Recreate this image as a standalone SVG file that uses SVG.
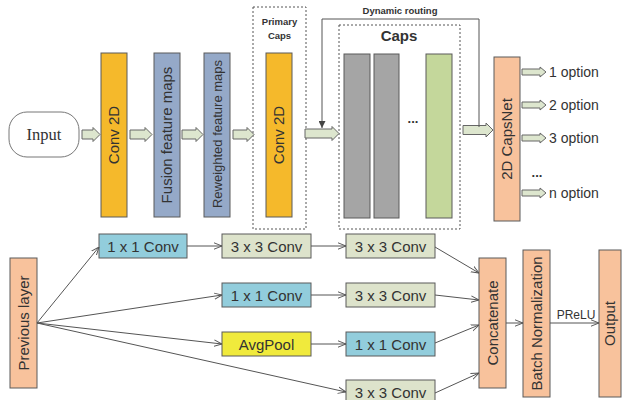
<svg xmlns="http://www.w3.org/2000/svg" width="622" height="400" viewBox="0 0 622 400">
  <defs>
    <style>
      .t { font-family: "Liberation Sans", Arial, sans-serif; fill: #333; }
      .b { font-weight: bold; }
      .box { stroke: #5a5a5a; stroke-width: 1; }
      .orange { fill: #F5B92B; }
      .steel { fill: #95A9C8; }
      .gray { fill: #A5A5A5; }
      .green { fill: #C4D79B; }
      .peach { fill: #F8C29C; }
      .cyan { fill: #92CDDC; }
      .sage { fill: #DDE3CB; }
      .yellow { fill: #F0EA3C; }
      .dash { fill: none; stroke: #555; stroke-width: 1; stroke-dasharray: 2 2; }
      .barrow { fill: #DDE6CE; stroke: #666; stroke-width: 1; }
      .ln { fill: none; stroke: #555; stroke-width: 1; }
    </style>
    <marker id="open" viewBox="0 0 10 10" refX="10" refY="5" markerWidth="8" markerHeight="8" orient="auto" markerUnits="userSpaceOnUse">
      <path d="M0,1 L10,5 L0,9" fill="none" stroke="#555" stroke-width="1.2"/>
    </marker>
    <marker id="tri" viewBox="0 0 10 10" refX="10" refY="5" markerWidth="7" markerHeight="7" orient="auto" markerUnits="userSpaceOnUse">
      <path d="M0,0 L10,5 L0,10 Z" fill="#444"/>
    </marker>
  </defs>

  <!-- Capsule network pipeline -->
  <g id="input">
    <rect x="9" y="112" width="70" height="45" rx="18" fill="#fff" stroke="#777"/>
    <text x="44" y="140" text-anchor="middle" font-family="Liberation Serif, serif" font-size="16.5" fill="#333">Input</text>
  </g>
  <g id="conv2d-a">
    <rect class="box orange" x="101" y="53" width="26" height="164"/>
    <text class="t" font-size="15" transform="translate(119,135) rotate(-90)" text-anchor="middle">Conv 2D</text>
  </g>
  <g id="fusion">
    <rect class="box steel" x="154" y="53" width="26" height="164"/>
    <text class="t" font-size="15" transform="translate(172,135) rotate(-90)" text-anchor="middle">Fusion feature maps</text>
  </g>
  <g id="reweighted">
    <rect class="box steel" x="204" y="53" width="26" height="164"/>
    <text class="t" font-size="13" transform="translate(221.5,134) rotate(-90)" text-anchor="middle">Reweighted feature maps</text>
  </g>
  <g id="primary-caps">
    <rect class="dash" x="253" y="7" width="53" height="222"/>
    <text class="t b" font-size="9.5" x="279.5" y="25" text-anchor="middle">Primary</text>
    <text class="t b" font-size="9.5" x="279.5" y="39" text-anchor="middle">Caps</text>
    <rect class="box orange" x="266" y="53" width="26" height="164"/>
    <text class="t" font-size="15" transform="translate(284,135) rotate(-90)" text-anchor="middle">Conv 2D</text>
  </g>
  <g id="caps">
    <rect class="dash" x="339" y="25" width="121" height="204"/>
    <text class="t b" font-size="15" x="399" y="41" text-anchor="middle">Caps</text>
    <rect class="box gray" x="344" y="54" width="26" height="164"/>
    <rect class="box gray" x="374" y="54" width="25" height="164"/>
    <text class="t b" font-size="13" x="413" y="123" text-anchor="middle">...</text>
    <rect class="box green" x="426" y="54" width="26" height="164"/>
  </g>
  <g id="capsnet-2d">
    <rect class="box peach" x="494" y="57" width="26" height="164"/>
    <text class="t" font-size="15" transform="translate(512,139) rotate(-90)" text-anchor="middle">2D CapsNet</text>
    <text class="t" font-size="14" x="549" y="77">1 option</text>
    <text class="t" font-size="14" x="549" y="110">2 option</text>
    <text class="t" font-size="14" x="549" y="143">3 option</text>
    <text class="t b" font-size="13" x="537" y="177" text-anchor="middle">...</text>
    <text class="t" font-size="14" x="549" y="198">n option</text>
  </g>

  <!-- Inception-style block -->
  <g id="previous-layer">
    <rect class="box peach" x="10" y="258" width="27" height="130"/>
    <text class="t" font-size="15" transform="translate(29,323) rotate(-90)" text-anchor="middle">Previous layer</text>
  </g>
  <g id="b1-conv1">
    <rect class="box cyan" x="99" y="234" width="88" height="24"/>
    <text class="t" font-size="15" x="143" y="251.5" text-anchor="middle">1 x 1 Conv</text>
  </g>
  <g id="b1-conv3a">
    <rect class="box sage" x="222" y="234" width="89" height="24"/>
    <text class="t" font-size="15" x="266.5" y="251.5" text-anchor="middle">3 x 3 Conv</text>
  </g>
  <g id="b1-conv3b">
    <rect class="box sage" x="346" y="234" width="89" height="24"/>
    <text class="t" font-size="15" x="390.5" y="251.5" text-anchor="middle">3 x 3 Conv</text>
  </g>
  <g id="b2-conv1">
    <rect class="box cyan" x="222" y="283" width="89" height="24"/>
    <text class="t" font-size="15" x="266.5" y="300.5" text-anchor="middle">1 x 1 Conv</text>
  </g>
  <g id="b2-conv3">
    <rect class="box sage" x="346" y="283" width="89" height="24"/>
    <text class="t" font-size="15" x="390.5" y="300.5" text-anchor="middle">3 x 3 Conv</text>
  </g>
  <g id="b3-avgpool">
    <rect class="box yellow" x="222" y="332" width="89" height="24"/>
    <text class="t" font-size="15" x="266.5" y="349.5" text-anchor="middle">AvgPool</text>
  </g>
  <g id="b3-conv1">
    <rect class="box cyan" x="346" y="332" width="89" height="24"/>
    <text class="t" font-size="15" x="390.5" y="349.5" text-anchor="middle">1 x 1 Conv</text>
  </g>
  <g id="b4-conv3">
    <rect class="box sage" x="346" y="380" width="89" height="26"/>
    <text class="t" font-size="15" x="390.5" y="397.5" text-anchor="middle">3 x 3 Conv</text>
  </g>
  <g id="concatenate">
    <rect class="box peach" x="479" y="258" width="27" height="130"/>
    <text class="t" font-size="15" transform="translate(497.5,323) rotate(-90)" text-anchor="middle">Concatenate</text>
  </g>
  <g id="batch-norm">
    <rect class="box peach" x="523" y="250" width="27" height="147"/>
    <text class="t" font-size="15" transform="translate(541.5,323.5) rotate(-90)" text-anchor="middle">Batch Normalization</text>
  </g>
  <g id="output">
    <rect class="box peach" x="599" y="250" width="22" height="147"/>
    <text class="t" font-size="15" transform="translate(615,323.5) rotate(-90)" text-anchor="middle">Output</text>
  </g>

  <g id="connectors">
    <!-- block arrows along the main pipeline -->
    <path class="barrow" d="M82,130 H93 V127.5 L100,134.5 L93,141.5 V139 H82 Z"/>
    <path class="barrow" d="M130,130 H145 V127.5 L152,134.5 L145,141.5 V139 H130 Z"/>
    <path class="barrow" d="M182,130 H196 V127.5 L203,134.5 L196,141.5 V139 H182 Z"/>
    <path class="barrow" d="M233,130 H247 V127.5 L254,134.5 L247,141.5 V139 H233 Z"/>
    <path class="barrow" d="M305,129 H332 V126.5 L339,133.5 L332,140.5 V138 H305 Z"/>
    <path class="barrow" d="M463,125.5 H486 V123 L493,130 L486,137 V134.5 H463 Z"/>
    <!-- dynamic routing loop -->
    <path class="ln" d="M479,127 V19 H322 V128" stroke="#666" marker-end="url(#tri)"/>
    <text class="t b" font-size="9.5" x="400" y="14" text-anchor="middle">Dynamic routing</text>
    <!-- option outputs -->
    <path class="barrow" d="M522,69 H540 V67 L546,72 L540,77 V75 H522 Z"/>
    <path class="barrow" d="M522,102 H540 V100 L546,105 L540,110 V108 H522 Z"/>
    <path class="barrow" d="M522,135 H540 V133 L546,138 L540,143 V141 H522 Z"/>
    <path class="barrow" d="M522,190 H540 V188 L546,193 L540,198 V196 H522 Z"/>

    <!-- inception branches -->
    <line class="ln" x1="37" y1="323" x2="99" y2="247" marker-end="url(#open)"/>
    <line class="ln" x1="37" y1="323" x2="222" y2="295" marker-end="url(#open)"/>
    <line class="ln" x1="37" y1="323" x2="222" y2="344" marker-end="url(#open)"/>
    <line class="ln" x1="37" y1="323" x2="346" y2="392" marker-end="url(#open)"/>
    <line class="ln" x1="187" y1="246" x2="222" y2="246" marker-end="url(#open)"/>
    <line class="ln" x1="311" y1="246" x2="346" y2="246" marker-end="url(#open)"/>
    <line class="ln" x1="311" y1="295" x2="346" y2="295" marker-end="url(#open)"/>
    <line class="ln" x1="311" y1="344" x2="346" y2="344" marker-end="url(#open)"/>
    <line class="ln" x1="435" y1="247" x2="479" y2="273" marker-end="url(#open)"/>
    <line class="ln" x1="435" y1="295" x2="479" y2="300" marker-end="url(#open)"/>
    <line class="ln" x1="435" y1="343" x2="479" y2="325" marker-end="url(#open)"/>
    <line class="ln" x1="435" y1="393" x2="479" y2="373" marker-end="url(#open)"/>
    <line class="ln" x1="506" y1="323" x2="523" y2="323" marker-end="url(#open)"/>
    <line class="ln" x1="550" y1="323" x2="599" y2="323" marker-end="url(#open)"/>
    <text class="t" font-size="12" x="576" y="319" text-anchor="middle">PReLU</text>
  </g>
</svg>
